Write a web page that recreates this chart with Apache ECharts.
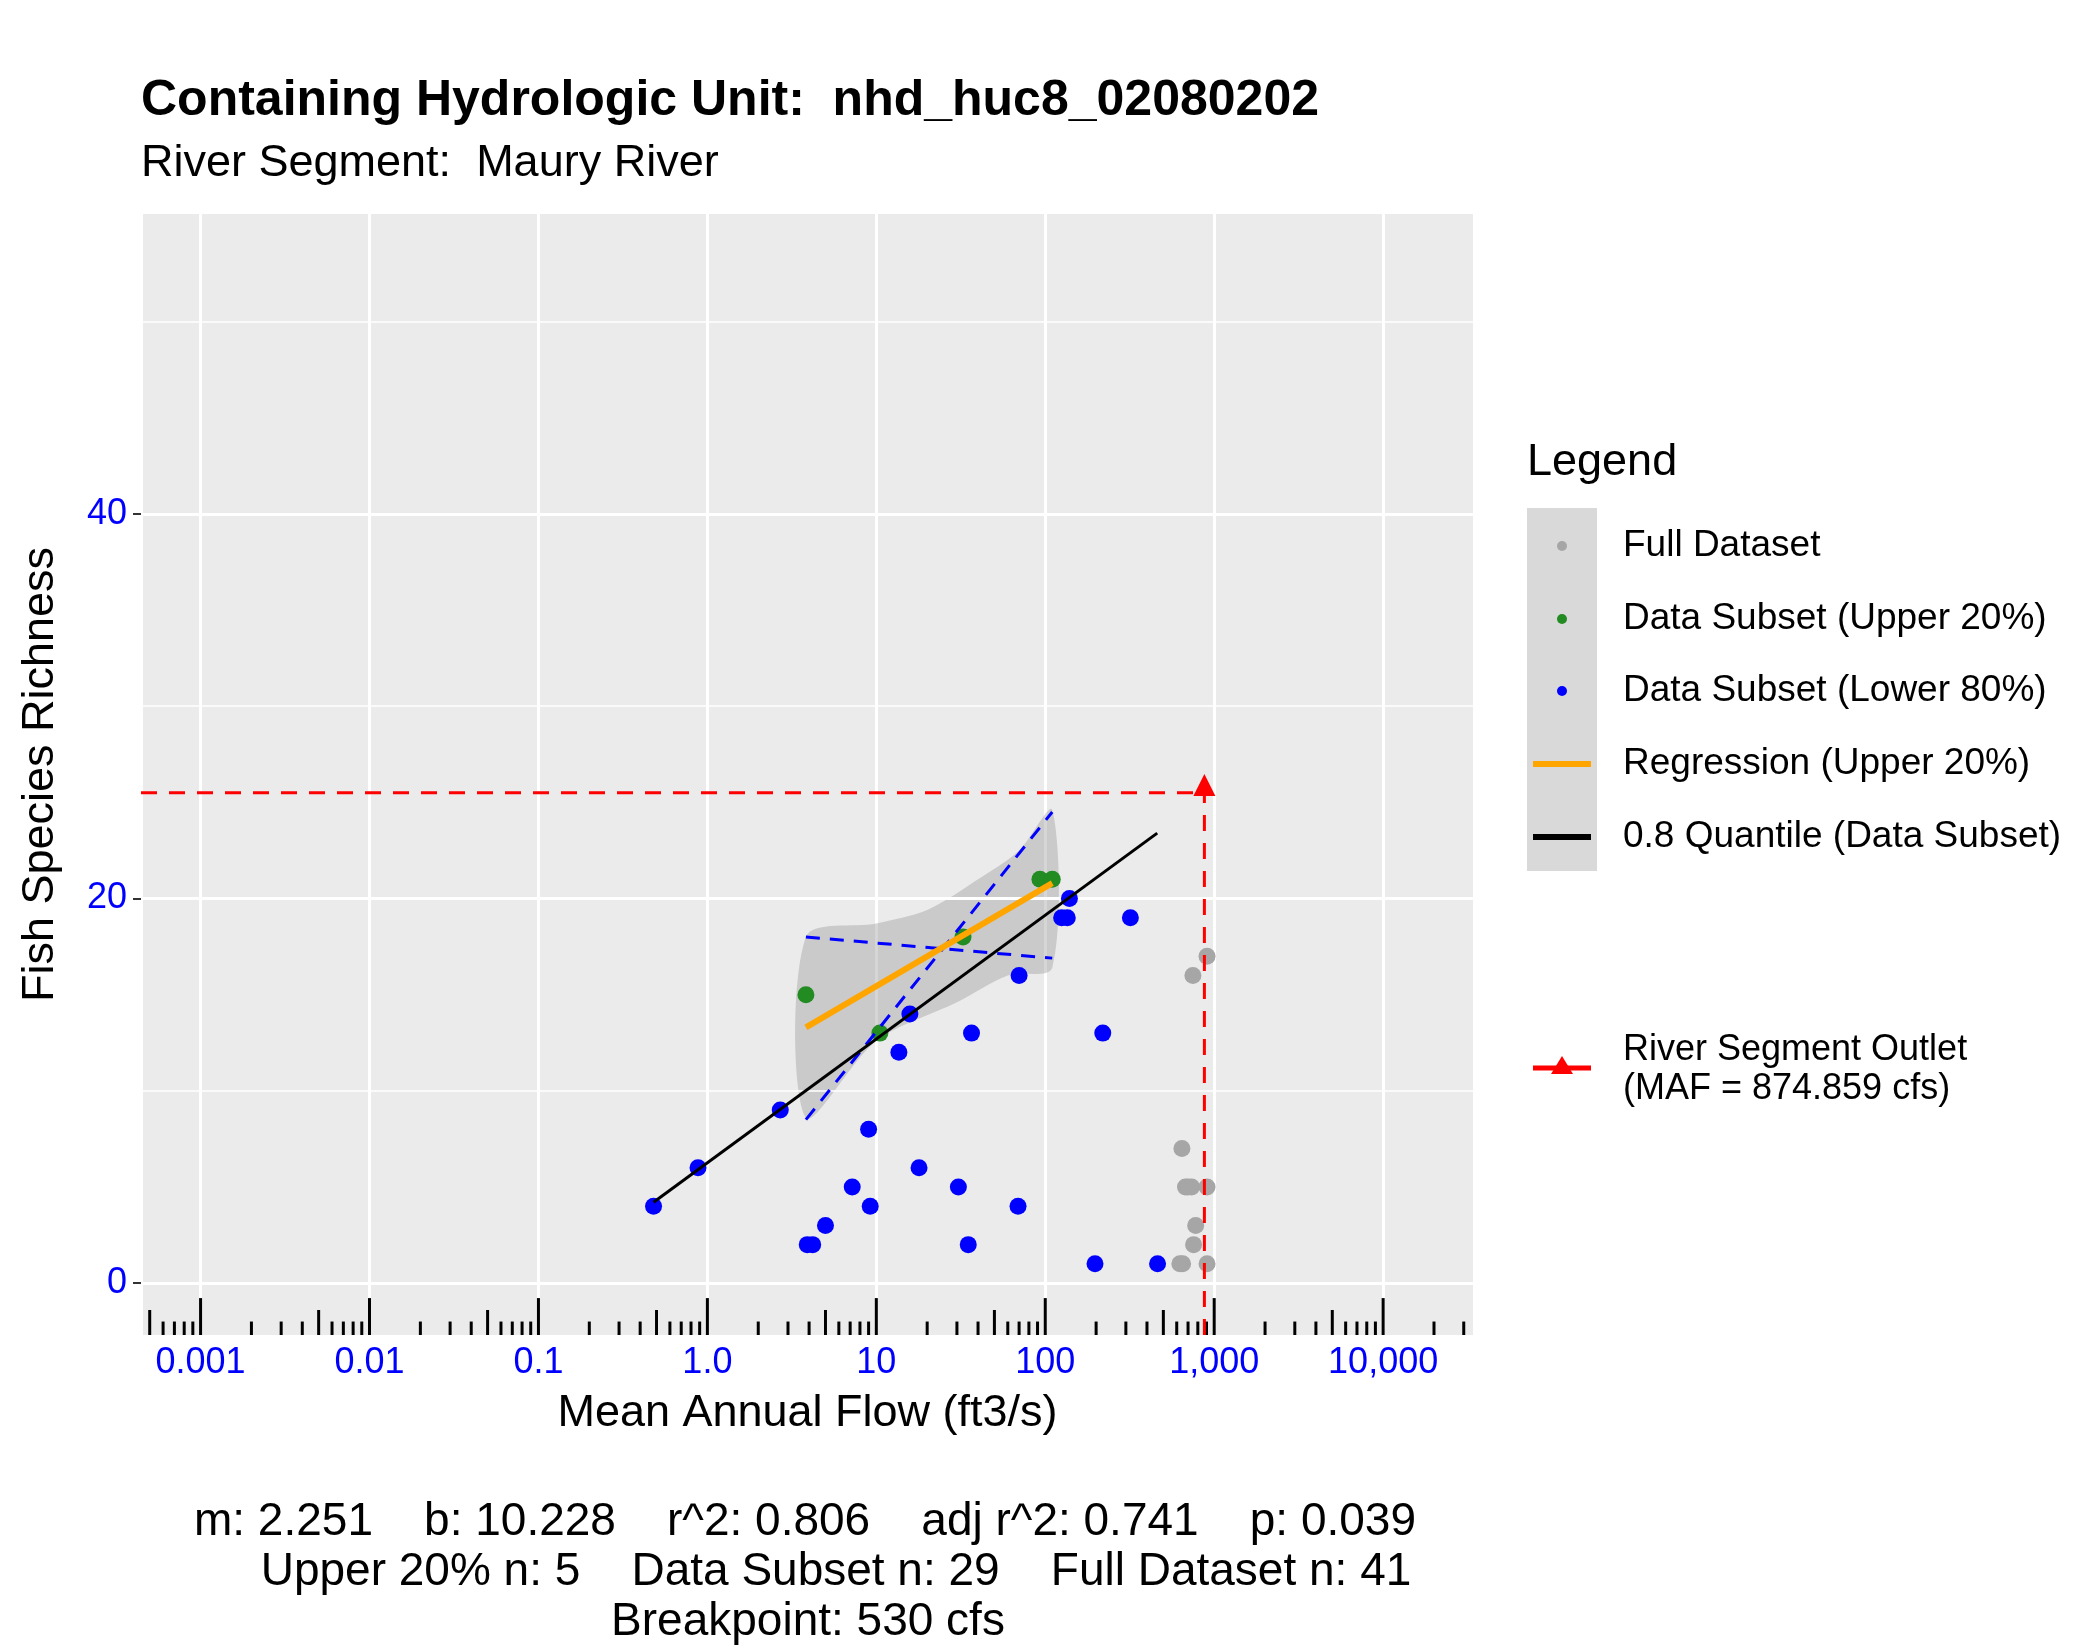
<!DOCTYPE html>
<html>
<head>
<meta charset="utf-8">
<title>Fish Species Richness</title>
<script src="https://cdn.jsdelivr.net/npm/echarts@6/dist/echarts.min.js"></script>
<style>html,body{margin:0;background:#fff}#main{width:2100px;height:1650px}</style>
</head>
<body>
<div id="main"></div>
<script>
// points: [flow cfs, richness]
var fullDataset = [[907,17],[748,16],[644,7],[676,5],[700,5],[735,5],[907,5],[777,3],[755,2],[626,1],[650,1],[907,1]];
var upperSubset = [[3.83,15],[10.5,13],[32.6,18],[93,21],[110,21]];
var lowerSubset = [[0.48,4],[0.88,6],[2.7,9],[9,8],[7.2,5],[9.2,4],[5.0,3],[3.9,2],[4.2,2],[17.9,6],
    [13.6,12],[15.8,14],[36.6,13],[30.6,5],[35,2],[70,16],[69,4],[139,20],[125,19],[135,19],
    [319,19],[219,13],[197,1],[462,1]];
var regressionLine = [[3.83,13.3],[110,20.8]];
var bandUpper = [[3.83,18.0],[10,18.7],[20,19.4],[40,21.0],[70,22.5],[110,24.6]];
var bandLower = [[3.83,8.6],[10,12.6],[30,14.6],[60,16.0],[110,16.4]];
var ciLineA = [[3.83,18.0],[110,16.9]];
var ciLineB = [[3.83,8.5],[110,24.5]];
var quantileLine = [[0.48,4.2],[460,23.4]];
var outletMAF = 874.859;
var outletRichness = 25.5;
var xMajor = [0.001,0.01,0.1,1,10,100,1000,10000];
var xLabels = {0.001:'0.001',0.01:'0.01',0.1:'0.1',1:'1.0',10:'10',100:'100',1000:'1,000',10000:'10,000'};
var yMajor = [0,20,40];
var yMinor = [10,30,50];
var xMin = 0.000444, xMax = 34500, yMin = -2.7, yMax = 55.6;

// log tick marks along the bottom of the panel
var tickMarks = [];
[0.0001,0.001,0.01,0.1,1,10,100,1000,10000].forEach(function (d) {
    for (var k = 1; k <= 9; k++) {
        var v = d * k;
        if (v < xMin || v > xMax) continue;
        tickMarks.push([v, k === 1 ? -0.78 : (k === 5 ? -1.4 : -2.0)]);
    }
});

var chart = echarts.init(document.getElementById('main'));
var font = 'Arial, "Liberation Sans", sans-serif';

function gridLines(vals, w) {
    return vals.map(function (v) { return {yAxis: v, lineStyle: {width: w}}; });
}

var LX = 1527; // legend left

var option = {
    animation: false,
    textStyle: {fontFamily: font},
    grid: {left: 141, top: 214, width: 1333, height: 1121, show: true, backgroundColor: '#EBEBEB', borderWidth: 0},
    xAxis: {
        type: 'log', logBase: 10, min: xMin, max: xMax,
        axisLine: {show: false}, axisTick: {show: false},
        splitLine: {show: true, lineStyle: {color: '#fff', width: 3}},
        minorSplitLine: {show: false},
        axisLabel: {customValues: xMajor, color: '#0000FF', fontSize: 36, margin: 10,
            formatter: function (v) { return xLabels[v] || ''; }},
        name: 'Mean Annual Flow (ft3/s)', nameLocation: 'middle', nameGap: 56,
        nameTextStyle: {fontSize: 45, color: '#000'}
    },
    yAxis: {
        type: 'value', min: yMin, max: yMax,
        axisLine: {show: false},
        axisTick: {show: true, customValues: yMajor, length: 8, lineStyle: {color: '#333', width: 2}},
        splitLine: {show: false},
        axisLabel: {customValues: yMajor, color: '#0000FF', fontSize: 36, margin: 14},
        name: 'Fish Species Richness', nameLocation: 'middle', nameGap: 78,
        nameTextStyle: {fontSize: 45, color: '#000'}
    },
    series: [
        {type: 'line', data: [], silent: true,
            markLine: {silent: true, symbol: 'none', label: {show: false},
                lineStyle: {color: '#fff', type: 'solid'},
                data: gridLines(yMajor, 3).concat(gridLines(yMinor, 1.5))}},
        {type: 'custom', silent: true, z: 2, data: [0],
            renderItem: function (params, api) {
                var pts = bandUpper.concat(bandLower.slice().reverse()).map(function (p) { return api.coord(p); });
                return {type: 'polygon', shape: {points: pts, smooth: 0.3}, style: {fill: 'rgba(153,153,153,0.4)'}};
            }},
        {type: 'custom', silent: true, z: 3, data: tickMarks,
            renderItem: function (params, api) {
                var top = api.coord([api.value(0), api.value(1)]);
                var bot = api.coord([api.value(0), yMin]);
                return {type: 'line', shape: {x1: top[0], y1: top[1], x2: bot[0], y2: bot[1]},
                    style: {stroke: '#000', lineWidth: 3}};
            }},
        {type: 'scatter', data: fullDataset, symbolSize: 17, itemStyle: {color: '#A6A6A6', opacity: 1}, z: 4},
        {type: 'scatter', data: upperSubset, symbolSize: 17, itemStyle: {color: '#228B22', opacity: 1}, z: 5},
        {type: 'scatter', data: lowerSubset, symbolSize: 17, itemStyle: {color: '#0000FF', opacity: 1}, z: 6},
        {type: 'line', data: ciLineA, symbol: 'none', z: 7, lineStyle: {color: '#0000FF', width: 3, type: [14, 10]}},
        {type: 'line', data: ciLineB, symbol: 'none', z: 7, lineStyle: {color: '#0000FF', width: 3, type: [14, 10]}},
        {type: 'line', data: regressionLine, symbol: 'none', z: 8, lineStyle: {color: '#FFA500', width: 6}},
        {type: 'line', data: quantileLine, symbol: 'none', z: 9, lineStyle: {color: '#000', width: 3}},
        {type: 'line', data: [[xMin, outletRichness], [outletMAF, outletRichness]], symbol: 'none', z: 10,
            lineStyle: {color: '#FF0000', width: 3, type: [16, 12]}},
        {type: 'line', data: [[outletMAF, yMin], [outletMAF, outletRichness]], symbol: 'none', z: 10,
            lineStyle: {color: '#FF0000', width: 3, type: [16, 12]}},
        {type: 'scatter', data: [[outletMAF, outletRichness + 0.4]], symbol: 'triangle', symbolSize: 22, z: 11,
            itemStyle: {color: '#FF0000', opacity: 1}}
    ],
    graphic: [
        {type: 'text', left: 141, top: 76, style: {text: 'Containing Hydrologic Unit:  nhd_huc8_02080202', font: 'bold 50px ' + font, fill: '#000'}},
        {type: 'text', left: 141, top: 141, style: {text: 'River Segment:  Maury River', font: '45px ' + font, fill: '#000'}},
        {type: 'text', left: LX, top: 440, style: {text: 'Legend', font: '45px ' + font, fill: '#000'}},
        {type: 'rect', shape: {x: LX, y: 508, width: 70, height: 363}, style: {fill: '#D9D9D9'}},
        {type: 'circle', shape: {cx: LX + 35, cy: 546, r: 5}, style: {fill: '#A6A6A6'}},
        {type: 'circle', shape: {cx: LX + 35, cy: 619, r: 5}, style: {fill: '#228B22'}},
        {type: 'circle', shape: {cx: LX + 35, cy: 691, r: 5}, style: {fill: '#0000FF'}},
        {type: 'line', shape: {x1: LX + 6, y1: 764, x2: LX + 64, y2: 764}, style: {stroke: '#FFA500', lineWidth: 6}},
        {type: 'line', shape: {x1: LX + 6, y1: 837, x2: LX + 64, y2: 837}, style: {stroke: '#000', lineWidth: 6}},
        {type: 'text', left: LX + 96, top: 527, style: {text: 'Full Dataset', font: '37px ' + font, fill: '#000'}},
        {type: 'text', left: LX + 96, top: 600, style: {text: 'Data Subset (Upper 20%)', font: '37px ' + font, fill: '#000'}},
        {type: 'text', left: LX + 96, top: 672, style: {text: 'Data Subset (Lower 80%)', font: '37px ' + font, fill: '#000'}},
        {type: 'text', left: LX + 96, top: 745, style: {text: 'Regression (Upper 20%)', font: '37px ' + font, fill: '#000'}},
        {type: 'text', left: LX + 96, top: 818, style: {text: '0.8 Quantile (Data Subset)', font: '37px ' + font, fill: '#000'}},
        {type: 'line', shape: {x1: LX + 6, y1: 1068, x2: LX + 64, y2: 1068}, style: {stroke: '#FF0000', lineWidth: 5}},
        {type: 'polygon', shape: {points: [[LX + 35, 1056], [LX + 24, 1074], [LX + 46, 1074]]}, style: {fill: '#FF0000'}},
        {type: 'text', left: LX + 96, top: 1031, style: {text: 'River Segment Outlet\n(MAF = 874.859 cfs)', font: '36px ' + font, lineHeight: 39, fill: '#000'}},
        {type: 'text', x: 805, y: 1522, style: {text: 'm: 2.251    b: 10.228    r^2: 0.806    adj r^2: 0.741    p: 0.039', font: '46px ' + font, fill: '#000', align: 'center', verticalAlign: 'middle'}},
        {type: 'text', x: 836, y: 1572, style: {text: 'Upper 20% n: 5    Data Subset n: 29    Full Dataset n: 41', font: '46px ' + font, fill: '#000', align: 'center', verticalAlign: 'middle'}},
        {type: 'text', x: 808, y: 1622, style: {text: 'Breakpoint: 530 cfs', font: '46px ' + font, fill: '#000', align: 'center', verticalAlign: 'middle'}}
    ]
};
chart.setOption(option);
</script>
</body>
</html>
